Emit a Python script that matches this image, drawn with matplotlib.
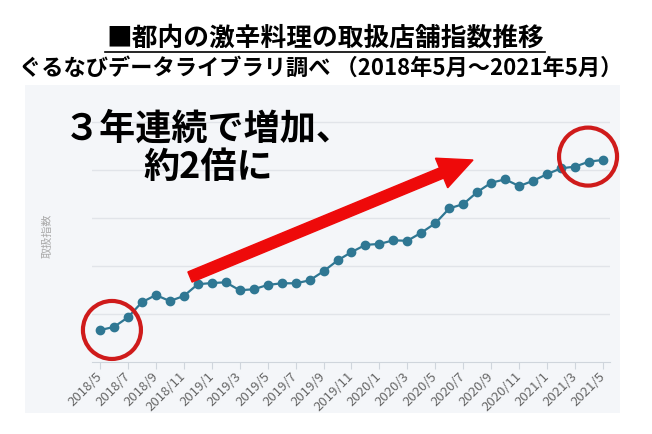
import numpy as np
import pandas as pd
from matplotlib import pyplot as plt
from matplotlib.patches import Rectangle, Circle, FancyArrow
from matplotlib.lines import Line2D
from matplotlib.transforms import IdentityTransform

plt.rcParams['font.family'] = ['Noto Sans CJK JP', 'DejaVu Sans']

# monthly index, 2018/5 - 2021/5
months = pd.date_range('2018-05-01', '2021-05-01', freq='MS')
month_labels = [f'{d.year}/{d.month}' for d in months]
index_values = [73.3, 74.6, 78.6, 84.9, 87.9, 85.4, 87.5, 92.4, 92.9, 93.2,
                89.9, 90.3, 92.1, 92.8, 92.8, 94.0, 97.8, 102.3, 105.8, 108.8,
                109.2, 110.7, 110.5, 113.9, 117.8, 124.0, 125.8, 130.8, 134.7, 136.1,
                133.3, 135.5, 138.3, 140.7, 141.4, 143.5, 144.2]
grid_levels = [80, 100, 120, 140, 160]

title = '■都内の激辛料理の取扱店舗指数推移'
subtitle = 'ぐるなびデータライブラリ調べ （2018年5月～2021年5月）'
callout = '３年連続で増加、\n約2倍に'

W, H = 652, 434
fig = plt.figure(figsize=(W / 100, H / 100), dpi=100)

# light panel behind the chart
fig.add_artist(Rectangle((25 / W, 1 - 413 / H), 595 / W, 328 / H, transform=fig.transFigure,
                         facecolor='#f4f6f9', edgecolor='none', zorder=-5))

ax = fig.add_axes([92 / W, 1 - 362 / H, 518 / W, 252 / H])
ax.set_facecolor('none')
x = np.arange(len(index_values))
ax.plot(x, index_values, color='#2f7793', lw=1.6, marker='o', ms=6, zorder=3)
ax.set_xlim(-0.57, 36.5)
ax.set_ylim(60, 165)
ax.set_yticks(grid_levels)
ax.tick_params(axis='y', length=0, labelleft=False)
ax.grid(axis='y', color='#e1e4e9', lw=1)
ax.set_axisbelow(True)
for s in ['top', 'right', 'left']:
    ax.spines[s].set_visible(False)
ax.spines['bottom'].set_color('#cfd5dc')
ax.set_xticks(x[::2])
ax.set_xticklabels(month_labels[::2], rotation=45, ha='right', va='center',
                   rotation_mode='anchor', fontsize=9.5, color='#666666')
ax.tick_params(axis='x', length=5, color='#cfd5dc', pad=4)
ax.set_ylabel('取扱指数', color='#aaaaaa', fontsize=8)
ax.yaxis.set_label_coords((53 - 92) / 518, 0.5)

# titles
fig.text(325 / W, 1 - 38 / H, title, ha='center', va='center', fontsize=18.5, fontweight='bold')
fig.add_artist(Line2D([105 / W, 545 / W], [1 - 52 / H] * 2, color='black', lw=1.2))
fig.text(321 / W, 1 - 68 / H, subtitle, ha='center', va='center', fontsize=16, fontweight='bold')

# callout text and arrow
fig.text(208 / W, 1 - 148 / H, callout, ha='center', va='center', fontsize=26,
         fontweight='bold', linespacing=1.05, zorder=10)
fig.add_artist(FancyArrow(190, 157, 283, 117, width=11, head_width=32, head_length=34,
                          length_includes_head=True, color='#ee0a0a',
                          transform=IdentityTransform(), zorder=10))

# circles around first and last points
for i, (dx, dy) in [(1, (-2, -3)), (len(index_values) - 2, (-1, 5))]:
    cx, cy = ax.transData.transform((x[i], index_values[i]))
    fig.add_artist(Circle((cx + dx, cy + dy), 29, transform=IdentityTransform(),
                          fill=False, edgecolor='#cf1b1b', lw=3, zorder=10))

fig.savefig('out.png', dpi=100)
